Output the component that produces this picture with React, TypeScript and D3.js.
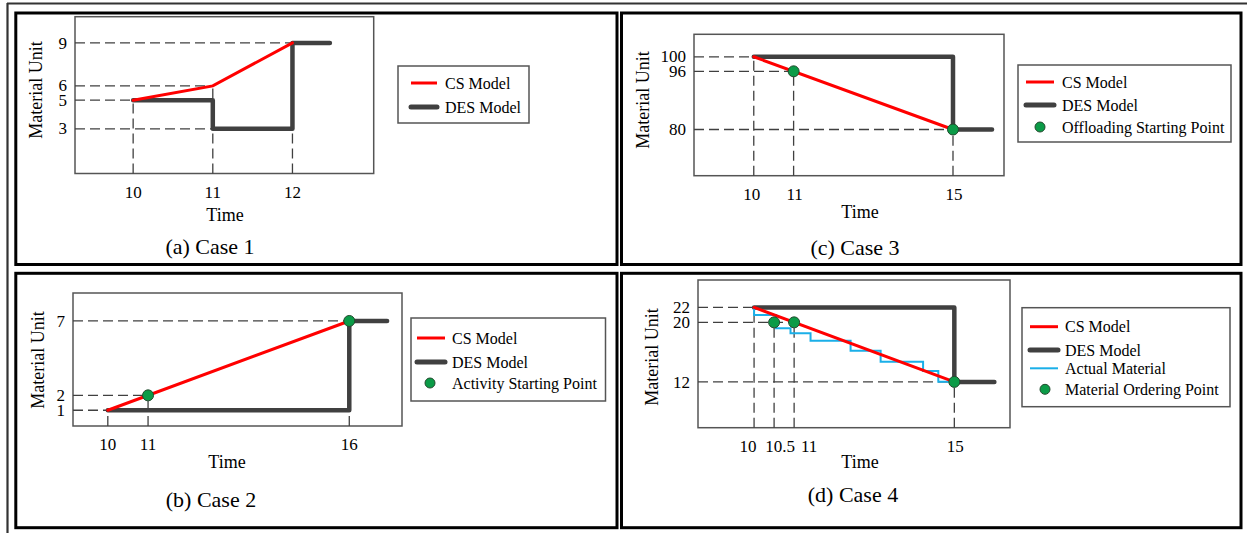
import React from 'react';
import * as d3 from 'd3';

// ---------- DATA ----------
// (a) Case 1
const case1XDomain = [9.27, 13.02];
const case1YDomain = [-0.12, 10.83];
const case1TicksX = [10, 11, 12];
const case1TicksY = [9, 6, 5, 3];
const case1CsTime = [10, 11, 12];
const case1CsValue = [5, 6, 9];
const case1DesTime = [10, 11, 11, 12, 12, 12.47];
const case1DesValue = [5, 5, 3, 3, 9, 9];
const case1GuideTime = [10, 11, 11, 12];
const case1GuideValue = [5, 6, 3, 9];
const case1DotTime: number[] = [];
const case1DotValue: number[] = [];
const case1Legend = ['CS Model', 'DES Model'];

// (b) Case 2
const case2XDomain = [9.135, 17.31];
const case2YDomain = [-0.06, 8.88];
const case2TicksX = [10, 11, 16];
const case2TicksY = [7, 2, 1];
const case2CsTime = [10, 16];
const case2CsValue = [1, 7];
const case2DesTime = [10, 16, 16, 16.94];
const case2DesValue = [1, 1, 7, 7];
const case2GuideTime = [10, 11, 16];
const case2GuideValue = [1, 2, 7];
const case2DotTime = [11, 16];
const case2DotValue = [2, 7];
const case2Legend = ['CS Model', 'DES Model', 'Activity Starting Point'];

// (c) Case 3
const case3XDomain = [8.5, 16.28];
const case3YDomain = [67.3, 106.18];
const case3TicksX = [10, 11, 15];
const case3TicksY = [100, 96, 80];
const case3CsTime = [10, 15];
const case3CsValue = [100, 80];
const case3DesTime = [10, 15, 15, 15.98];
const case3DesValue = [100, 100, 80, 80];
const case3GuideTime = [10, 11, 15];
const case3GuideValue = [100, 96, 80];
const case3DotTime = [11, 15];
const case3DotValue = [96, 80];
const case3Legend = ['CS Model', 'DES Model', 'Offloading Starting Point'];

// (d) Case 4
const case4XDomain = [8.6, 16.39];
const case4YDomain = [5.845, 25.69];
const case4TicksX = [10, 10.5, 11, 15];
const case4TicksY = [22, 20, 12];
const case4CsTime = [10, 15];
const case4CsValue = [22, 12];
const case4DesTime = [10, 15, 15, 16];
const case4DesValue = [22, 22, 12, 12];
const case4ActualTime = [10, 10, 10.55, 10.91, 11.41, 12.41, 13.16, 14.22, 14.6, 15];
const case4ActualValue = [22, 21, 19.2, 18.53, 17.53, 16.19, 14.71, 13.46, 12.03, 12.03];
const case4GuideTime = [10, 10.5, 11, 15];
const case4GuideValue = [22, 20, 20, 12];
const case4DotTime = [10.5, 11, 15];
const case4DotValue = [20, 20, 12];
const case4Legend = ['CS Model', 'DES Model', 'Actual Material', 'Material Ordering Point'];

const captions = ['(a) Case 1', '(b) Case 2', '(c) Case 3', '(d) Case 4'];

// ---------- STYLE / LAYOUT ----------
const FONT = '"Liberation Serif", "Times New Roman", Times, serif';
const RED = '#FF0000';
const DES = '#404040';
const BLUE = '#1AAFE8';
const GREEN = '#0B9B47';
const GREEN_STROKE = '#234a2e';
const GUIDE = '#404040';
const TICK_FS = 17;
const AXIS_FS = 18;

const layouts = [
  {
    box: { l: 75, t: 16.7, r: 373.7, b: 173.5 },
    frame: { x0: 15.8, y0: 13, x1: 617, y1: 264.5 },
    yLabel: { x: 36, y: 90 },
    time: { x: 225, y: 221 },
    caption: { x: 210, y: 254 },
    tickDx: [0, 0, 0],
    legend: { x: 398, y: 66, w: 131, h: 57, rows: [83, 107], lineX: [411, 437], textX: 445, dotX: 424 },
  },
  {
    box: { l: 73, t: 293, r: 402, b: 426 },
    frame: { x0: 15.8, y0: 273.3, x1: 617, y1: 527.7 },
    yLabel: { x: 37.5, y: 360 },
    time: { x: 227, y: 468 },
    caption: { x: 211, y: 507 },
    tickDx: [0, 0, 0],
    legend: { x: 411, y: 318, w: 194.5, h: 83, rows: [338, 362, 383], lineX: [417, 445], textX: 452, dotX: 430 },
  },
  {
    box: { l: 694, t: 34.3, r: 1004, b: 175.7 },
    frame: { x0: 621.5, y0: 13, x1: 1241, y1: 264.5 },
    yLabel: { x: 643, y: 100 },
    time: { x: 860, y: 218 },
    caption: { x: 855, y: 255 },
    tickDx: [-2, 1, 1],
    legend: { x: 1018, y: 65, w: 213, h: 77, rows: [82, 105, 127], lineX: [1026, 1054], textX: 1062, dotX: 1040 },
  },
  {
    box: { l: 698, t: 280, r: 1010, b: 427.7 },
    frame: { x0: 621.5, y0: 273.3, x1: 1241, y1: 527.7 },
    yLabel: { x: 652, y: 357 },
    time: { x: 860, y: 468 },
    caption: { x: 853, y: 502 },
    tickDx: [-6, 6, 15, 1],
    legend: { x: 1022, y: 307.7, w: 208, h: 99, rows: [326.7, 350, 368.3, 389.3], lineX: [1030, 1058], textX: 1065, dotX: 1045 },
  },
];

const zip = (a: number[], b: number[]) => a.map((t, i) => [t, b[i]] as [number, number]);

const panels = [
  {
    xDomain: case1XDomain, yDomain: case1YDomain, ticksX: case1TicksX, ticksY: case1TicksY,
    cs: zip(case1CsTime, case1CsValue), des: zip(case1DesTime, case1DesValue), actual: null as null | [number, number][],
    guides: zip(case1GuideTime, case1GuideValue), dots: zip(case1DotTime, case1DotValue),
    legend: case1Legend, kinds: ['cs', 'des'], caption: captions[0], layout: layouts[0],
  },
  {
    xDomain: case2XDomain, yDomain: case2YDomain, ticksX: case2TicksX, ticksY: case2TicksY,
    cs: zip(case2CsTime, case2CsValue), des: zip(case2DesTime, case2DesValue), actual: null,
    guides: zip(case2GuideTime, case2GuideValue), dots: zip(case2DotTime, case2DotValue),
    legend: case2Legend, kinds: ['cs', 'des', 'dot'], caption: captions[1], layout: layouts[1],
  },
  {
    xDomain: case3XDomain, yDomain: case3YDomain, ticksX: case3TicksX, ticksY: case3TicksY,
    cs: zip(case3CsTime, case3CsValue), des: zip(case3DesTime, case3DesValue), actual: null,
    guides: zip(case3GuideTime, case3GuideValue), dots: zip(case3DotTime, case3DotValue),
    legend: case3Legend, kinds: ['cs', 'des', 'dot'], caption: captions[2], layout: layouts[2],
  },
  {
    xDomain: case4XDomain, yDomain: case4YDomain, ticksX: case4TicksX, ticksY: case4TicksY,
    cs: zip(case4CsTime, case4CsValue), des: zip(case4DesTime, case4DesValue), actual: zip(case4ActualTime, case4ActualValue),
    guides: zip(case4GuideTime, case4GuideValue), dots: zip(case4DotTime, case4DotValue),
    legend: case4Legend, kinds: ['cs', 'des', 'actual', 'dot'], caption: captions[3], layout: layouts[3],
  },
];

function Panel({ p }: { p: typeof panels[number] }) {
  const L = p.layout;
  const box = L.box;
  const x = d3.scaleLinear().domain(p.xDomain).range([box.l, box.r]);
  const y = d3.scaleLinear().domain(p.yDomain).range([box.b, box.t]);
  const line = d3.line<[number, number]>().x((d) => x(d[0])).y((d) => y(d[1]));
  const step = d3.line<[number, number]>().x((d) => x(d[0])).y((d) => y(d[1])).curve(d3.curveStepAfter);
  const f = L.frame;
  const lg = L.legend;

  // one horizontal guide per value (reaching the furthest time), one vertical guide per time (reaching the highest point)
  const hGuides = Array.from(d3.rollup(p.guides, (v) => d3.max(v, (g) => g[0]) as number, (g) => g[1]));
  const vGuides = Array.from(d3.rollup(p.guides, (v) => d3.max(v, (g) => y(g[1])) as number, (g) => g[0]))
    .map(([t]) => [t, d3.min(p.guides.filter((g) => g[0] === t), (g) => y(g[1])) as number] as [number, number]);

  return (
    <g>
      <rect x={f.x0} y={f.y0} width={f.x1 - f.x0} height={f.y1 - f.y0} fill="none" stroke="#000" strokeWidth={3} />
      <rect x={box.l} y={box.t} width={box.r - box.l} height={box.b - box.t} fill="none" stroke="#555" strokeWidth={1.5} />

      {/* guides */}
      <g stroke={GUIDE} strokeWidth={1.3} strokeDasharray="10,5" fill="none">
        {hGuides.map(([v, t], i) => (
          <line key={'h' + i} x1={box.l} y1={y(v)} x2={x(t)} y2={y(v)} />
        ))}
        {vGuides.map(([t, py], i) => (
          <line key={'v' + i} x1={x(t)} y1={box.b} x2={x(t)} y2={py} />
        ))}
      </g>

      {/* y tick labels */}
      {p.ticksY.map((v) => (
        <text key={'y' + v} x={box.l - 8} y={y(v)} dy="0.33em" textAnchor="end" fontSize={TICK_FS} fontFamily={FONT} fill="#000">
          {v}
        </text>
      ))}
      {/* x tick labels */}
      {p.ticksX.map((v, i) => (
        <text key={'x' + v} x={x(v) + (L.tickDx[i] || 0)} y={box.b + 24} textAnchor="middle" fontSize={TICK_FS} fontFamily={FONT} fill="#000">
          {v}
        </text>
      ))}

      <text x={L.time.x} y={L.time.y} textAnchor="middle" fontSize={AXIS_FS} fontFamily={FONT}>Time</text>
      <text transform={`translate(${L.yLabel.x},${L.yLabel.y}) rotate(-90)`} dy="0.35em" textAnchor="middle" fontSize={AXIS_FS} fontFamily={FONT}>
        Material Unit
      </text>
      <text x={L.caption.x} y={L.caption.y} textAnchor="middle" fontSize={22} fontFamily={FONT}>{p.caption}</text>

      {/* series */}
      <path d={line(p.des) || ''} fill="none" stroke={DES} strokeWidth={4.5} strokeLinecap="round" strokeLinejoin="round" />
      {p.actual && <path d={step(p.actual) || ''} fill="none" stroke={BLUE} strokeWidth={2} />}
      <path d={line(p.cs) || ''} fill="none" stroke={RED} strokeWidth={3} strokeLinecap="round" />
      {p.dots.map((d, i) => (
        <circle key={'d' + i} cx={x(d[0])} cy={y(d[1])} r={5.5} fill={GREEN} stroke={GREEN_STROKE} strokeWidth={1} />
      ))}

      {/* legend */}
      <rect x={lg.x} y={lg.y} width={lg.w} height={lg.h} fill="#fff" stroke="#555" strokeWidth={1.5} />
      {p.legend.map((label, i) => {
        const kind = p.kinds[i];
        const ry = lg.rows[i];
        return (
          <g key={'l' + i}>
            {kind === 'cs' && <line x1={lg.lineX[0]} x2={lg.lineX[1]} y1={ry} y2={ry} stroke={RED} strokeWidth={3} />}
            {kind === 'des' && <line x1={lg.lineX[0]} x2={lg.lineX[1]} y1={ry} y2={ry} stroke={DES} strokeWidth={5} strokeLinecap="round" />}
            {kind === 'actual' && <line x1={lg.lineX[0]} x2={lg.lineX[1]} y1={ry} y2={ry} stroke={BLUE} strokeWidth={2} />}
            {kind === 'dot' && <circle cx={lg.dotX} cy={ry} r={5} fill={GREEN} stroke={GREEN_STROKE} strokeWidth={1} />}
            <text x={lg.textX} y={ry} dy="0.35em" fontSize={16} fontFamily={FONT} fill="#000">{label}</text>
          </g>
        );
      })}
    </g>
  );
}

export default function App() {
  return (
    <svg width={1247} height={533} style={{ position: 'absolute', left: 0, top: 0, background: '#fff' }}>
      <rect x={0} y={0} width={1247} height={533} fill="#fff" />
      <line x1={7} y1={3.5} x2={1247} y2={3.5} stroke="#333" strokeWidth={2.2} />
      <line x1={7.5} y1={3} x2={7.5} y2={533} stroke="#333" strokeWidth={2.2} />
      {panels.map((p, i) => (
        <Panel key={i} p={p} />
      ))}
    </svg>
  );
}
